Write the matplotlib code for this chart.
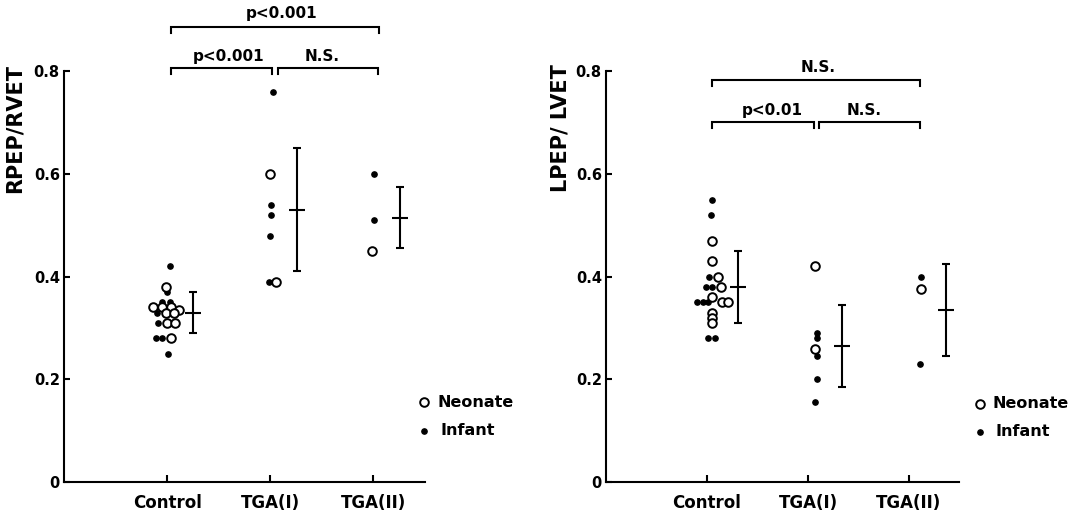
import matplotlib.pyplot as plt


GROUPS = ["Control", "TGA(I)", "TGA(II)"]
YTICKS = [0, 0.2, 0.4, 0.6, 0.8]
YTICK_LABELS = ["0", "0.2", "0.4", "0.6", "0.8"]

# left panel: RPEP/RVET
RV_NEONATE = [
    [0.38, 0.34, 0.34, 0.34, 0.335, 0.33, 0.33, 0.31, 0.31, 0.28],
    [0.60, 0.39],
    [0.45],
]
RV_INFANT = [
    [0.42, 0.37, 0.35, 0.35, 0.33, 0.31, 0.28, 0.28, 0.25],
    [0.76, 0.54, 0.52, 0.48, 0.39],
    [0.60, 0.51],
]
RV_MEAN = [0.33, 0.53, 0.515]
RV_SD = [0.04, 0.12, 0.06]

# right panel: LPEP/LVET
LV_NEONATE = [
    [0.47, 0.43, 0.40, 0.38, 0.36, 0.35, 0.35, 0.33, 0.32, 0.31],
    [0.42, 0.26],
    [0.375],
]
LV_INFANT = [
    [0.55, 0.52, 0.40, 0.38, 0.38, 0.35, 0.35, 0.35, 0.28, 0.28],
    [0.29, 0.28, 0.245, 0.20, 0.155],
    [0.40, 0.23],
]
LV_MEAN = [0.38, 0.265, 0.335]
LV_SD = [0.07, 0.08, 0.09]

# horizontal spread of the dots around each group (category units)
RV_NEONATE_DX = [
    [-0.01, -0.14, -0.05, 0.04, 0.12, -0.01, 0.07, 0.00, 0.08, 0.04],
    [0.00, 0.06],
    [-0.01],
]
RV_INFANT_DX = [
    [0.03, 0.00, -0.05, 0.03, -0.095, -0.09, -0.11, -0.05, 0.01],
    [0.03, 0.01, 0.01, 0.00, -0.01],
    [0.01, 0.01],
]
LV_NEONATE_DX = [
    [0.05, 0.05, 0.11, 0.135, 0.05, 0.145, 0.21, 0.05, 0.05, 0.05],
    [0.07, 0.07],
    [0.12],
]
LV_INFANT_DX = [
    [0.05, 0.04, 0.02, -0.01, 0.05, -0.10, -0.04, 0.01, 0.01, 0.08],
    [0.085, 0.085, 0.085, 0.085, 0.07],
    [0.12, 0.11],
]
RV_BAR_DX = [0.25, 0.26, 0.26]
LV_BAR_DX = [0.31, 0.34, 0.37]

LW = 1.5


def draw_points(ax, neonate, neonate_dx, infant, infant_dx, means, sds, bar_dx):
    for i in range(len(GROUPS)):
        x0 = i + 1
        ax.plot([x0 + d for d in infant_dx[i]], infant[i], "o", ms=3.8,
                color="black", ls="none", zorder=3, clip_on=False)
        ax.plot([x0 + d for d in neonate_dx[i]], neonate[i], "o", ms=6.2,
                mfc="white", mec="black", mew=1.4, ls="none", zorder=4,
                clip_on=False)
        ax.errorbar(x0 + bar_dx[i], means[i], yerr=sds[i], fmt="_", ms=12,
                    mew=LW, color="black", elinewidth=LW, capsize=2.6,
                    capthick=LW, zorder=5)


def bracket(ax, x1, x2, y, drop=0.011):
    ax.plot([x1, x1, x2, x2], [y - drop, y, y, y - drop], color="black",
            lw=LW, clip_on=False, solid_joinstyle="miter")


def style_axes(ax):
    ax.set_xlim(0, 3.5)
    ax.set_ylim(0, 0.8)
    for side in ("top", "right"):
        ax.spines[side].set_visible(False)
    for side in ("left", "bottom"):
        ax.spines[side].set_linewidth(LW)
    ax.set_xticks([1, 2, 3])
    ax.set_xticklabels(GROUPS, fontsize=12, fontweight="bold")
    ax.set_yticks(YTICKS)
    ax.set_yticklabels(YTICK_LABELS, fontsize=10.5, fontweight="bold")
    ax.tick_params(axis="x", direction="in", length=5, width=LW, pad=9)
    ax.tick_params(axis="y", direction="in", length=4, width=LW, pad=3)


def legend(ax, x, y_top, y_bot):
    ax.plot([x], [y_top], "o", ms=6.2, mfc="white", mec="black", mew=1.4,
            clip_on=False)
    ax.plot([x], [y_bot], "o", ms=3.8, color="black", clip_on=False)
    ax.text(x + 0.13, y_top, "Neonate", fontsize=11.5, fontweight="bold",
            va="center", ha="left")
    ax.text(x + 0.16, y_bot, "Infant", fontsize=11.5, fontweight="bold",
            va="center", ha="left")


def main():
    fig = plt.figure(figsize=(10.75, 5.15), dpi=100)
    ax_l = fig.add_axes([0.0595, 0.0641, 0.3358, 0.7975])
    ax_r = fig.add_axes([0.5637, 0.0641, 0.3288, 0.7975])

    for ax in (ax_l, ax_r):
        style_axes(ax)

    draw_points(ax_l, RV_NEONATE, RV_NEONATE_DX, RV_INFANT, RV_INFANT_DX,
                RV_MEAN, RV_SD, RV_BAR_DX)
    draw_points(ax_r, LV_NEONATE, LV_NEONATE_DX, LV_INFANT, LV_INFANT_DX,
                LV_MEAN, LV_SD, LV_BAR_DX)

    # significance brackets, left
    bracket(ax_l, 1.04, 2.02, 0.806)
    bracket(ax_l, 2.08, 3.04, 0.806)
    bracket(ax_l, 1.04, 3.05, 0.886)
    kw = dict(fontsize=11, fontweight="bold", ha="center", va="center")
    ax_l.text(1.6, 0.829, "p<0.001", **kw)
    ax_l.text(2.5, 0.829, "N.S.", **kw)
    ax_l.text(2.11, 0.912, "p<0.001", **kw)

    # significance brackets, right
    bracket(ax_r, 1.05, 2.06, 0.701)
    bracket(ax_r, 2.11, 3.11, 0.701)
    bracket(ax_r, 1.05, 3.11, 0.783)
    ax_r.text(1.65, 0.724, "p<0.01", **kw)
    ax_r.text(2.56, 0.724, "N.S.", **kw)
    ax_r.text(2.10, 0.808, "N.S.", **kw)

    legend(ax_l, 3.49, 0.155, 0.10)
    legend(ax_r, 3.70, 0.152, 0.098)

    fig.text(15 / 1075, 1 - 64 / 515, "RPEP/RVET", rotation=90, fontsize=15,
             fontweight="bold", ha="center", va="top")
    fig.text(560 / 1075, 1 - 64 / 515, "LPEP/ LVET", rotation=90, fontsize=15,
             fontweight="bold", ha="center", va="top")

    fig.savefig("out.png", dpi=100)
    plt.close(fig)


if __name__ == "__main__":
    main()
